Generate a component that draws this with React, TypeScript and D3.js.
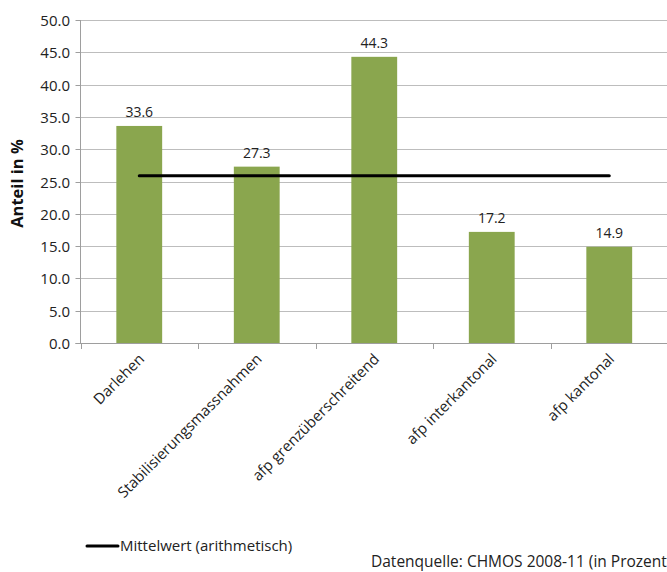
import { useRef, useEffect } from "react";
import * as d3 from "d3";

const categories = [
  "Darlehen",
  "Stabilisierungsmassnahmen",
  "afp grenzüberschreitend",
  "afp interkantonal",
  "afp kantonal",
];
const values = [33.6, 27.3, 44.3, 17.2, 14.9];
const meanValue = 25.9;
const yTicks = [0, 5, 10, 15, 20, 25, 30, 35, 40, 45, 50];

const App = () => {
  const svgRef = useRef(null);

  useEffect(() => {
    const svg = d3.select(svgRef.current);
    svg.selectAll("*").remove();

    const width = 667;
    const height = 572;
    const left = 80.5;
    const right = 668;
    const top = 20;
    const bottom = 343;
    const font = "'Open Sans', sans-serif";

    const x = d3.scaleBand().domain(categories).range([left, right]).paddingInner(0.61).paddingOuter(0.305);
    const step = (right - left) / categories.length;
    const y = d3.scaleLinear().domain([0, 50]).range([bottom, top]);

    svg.attr("width", width).attr("height", height);

    // gridlines
    svg
      .append("g")
      .selectAll("line")
      .data(yTicks.slice(1))
      .enter()
      .append("line")
      .attr("x1", left)
      .attr("x2", right)
      .attr("y1", (d) => Math.round(y(d)) + 0.5)
      .attr("y2", (d) => Math.round(y(d)) + 0.5)
      .attr("stroke", "#bdbdbd")
      .attr("stroke-width", 1);

    // bars
    svg
      .append("g")
      .selectAll("rect")
      .data(values)
      .enter()
      .append("rect")
      .attr("x", (d, i) => x(categories[i]))
      .attr("width", x.bandwidth())
      .attr("y", (d) => y(d))
      .attr("height", (d) => bottom - y(d))
      .attr("fill", "#8aa64e");

    // value labels
    svg
      .append("g")
      .selectAll("text")
      .data(values)
      .enter()
      .append("text")
      .attr("x", (d, i) => x(categories[i]) + x.bandwidth() / 2)
      .attr("y", (d) => y(d) - 9)
      .attr("text-anchor", "middle")
      .style("font-family", font)
      .style("font-size", "14px")
      .style("fill", "#222")
      .text((d) => d.toFixed(1));

    // axes
    const axisColor = "#9e9e9e";
    svg
      .append("line")
      .attr("x1", left)
      .attr("x2", left)
      .attr("y1", top)
      .attr("y2", bottom)
      .attr("stroke", axisColor);
    svg
      .append("line")
      .attr("x1", left - 5)
      .attr("x2", right)
      .attr("y1", bottom + 0.5)
      .attr("y2", bottom + 0.5)
      .attr("stroke", axisColor);

    const yg = svg.append("g");
    yTicks.forEach((t) => {
      const yy = Math.round(y(t)) + 0.5;
      yg.append("line")
        .attr("x1", left - 5)
        .attr("x2", left)
        .attr("y1", yy)
        .attr("y2", yy)
        .attr("stroke", axisColor);
      yg.append("text")
        .attr("x", 70)
        .attr("y", yy)
        .attr("dy", "0.35em")
        .attr("text-anchor", "end")
        .style("font-family", font)
        .style("font-size", "15px")
        .style("fill", "#222")
        .text(t.toFixed(1));
    });

    // x ticks
    d3.range(categories.length + 1).forEach((i) => {
      const xx = Math.round(left + i * step) + 0.5;
      svg
        .append("line")
        .attr("x1", xx)
        .attr("x2", xx)
        .attr("y1", bottom)
        .attr("y2", bottom + 6)
        .attr("stroke", axisColor);
    });

    // x labels
    svg
      .append("g")
      .selectAll("text")
      .data(categories)
      .enter()
      .append("text")
      .attr("transform", (d) => `translate(${x(d) + x.bandwidth() / 2 + 6},${bottom + 17}) rotate(-45)`)
      .attr("text-anchor", "end")
      .style("font-family", font)
      .style("font-size", "15px")
      .style("fill", "#222")
      .text((d) => d);

    // y axis title
    svg
      .append("text")
      .attr("transform", `translate(23,${(top + bottom) / 2 + 2}) rotate(-90)`)
      .attr("text-anchor", "middle")
      .style("font-family", font)
      .style("font-size", "16.5px")
      .style("font-weight", "bold")
      .style("fill", "#111")
      .text("Anteil in %");

    // mean line
    const cx0 = x(categories[0]) + x.bandwidth() / 2;
    const cx1 = x(categories[categories.length - 1]) + x.bandwidth() / 2;
    svg
      .append("line")
      .attr("x1", cx0)
      .attr("x2", cx1)
      .attr("y1", y(meanValue))
      .attr("y2", y(meanValue))
      .attr("stroke", "#000")
      .attr("stroke-width", 3)
      .attr("stroke-linecap", "round");

    // legend
    svg
      .append("line")
      .attr("x1", 87)
      .attr("x2", 118)
      .attr("y1", 546)
      .attr("y2", 546)
      .attr("stroke", "#000")
      .attr("stroke-width", 3)
      .attr("stroke-linecap", "round");
    svg
      .append("text")
      .attr("x", 120)
      .attr("y", 551)
      .style("font-family", font)
      .style("font-size", "15px")
      .style("fill", "#222")
      .text("Mittelwert (arithmetisch)");

    svg
      .append("text")
      .attr("x", 371)
      .attr("y", 567)
      .style("font-family", font)
      .style("font-size", "15.5px")
      .style("fill", "#222")
      .text("Datenquelle: CHMOS 2008-11 (in Prozent)");
  }, []);

  return (
    <div style={{ position: "absolute", left: 0, top: 0 }}>
      <svg ref={svgRef}></svg>
    </div>
  );
};

export default App;
